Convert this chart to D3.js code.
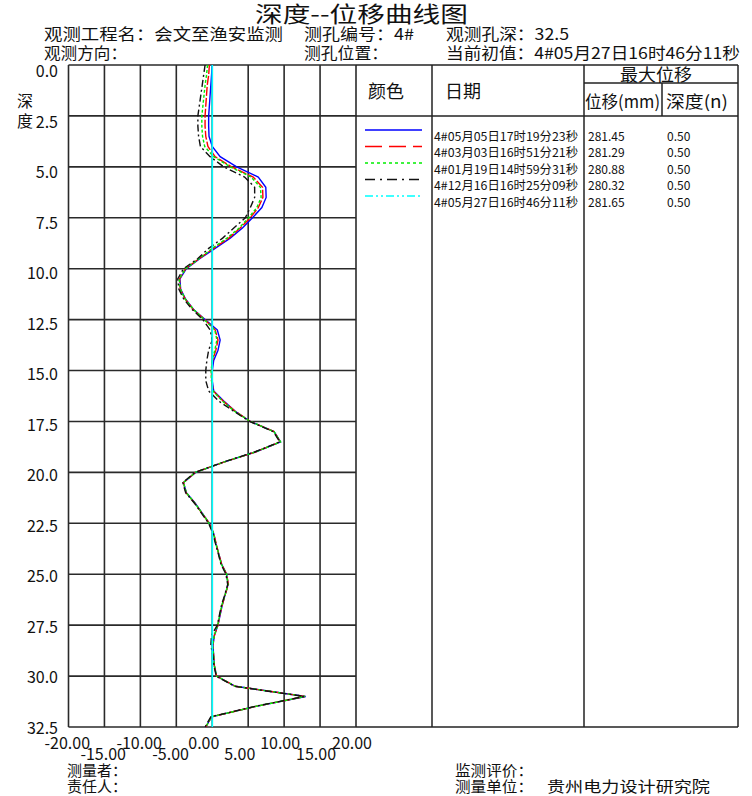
<!DOCTYPE html>
<html><head><meta charset="utf-8">
<script src="https://cdn.jsdelivr.net/npm/d3@7/dist/d3.min.js"></script>
<style>body{margin:0;background:#fff}svg{display:block}text{font-family:"Noto Sans CJK SC","Liberation Sans",sans-serif;fill:#111}</style>
</head><body><div id="chart"></div>
<script>
// ---------- data ----------
const depths = [0,0.5,1,1.5,2,2.5,3,3.5,4,4.5,5,5.5,6,6.5,7,7.5,8,8.5,9,9.5,10,10.5,11,11.5,12,12.5,13,13.5,14,14.5,15,15.5,16,16.5,17,17.5,18,18.5,19,19.5,20,20.5,21,21.5,22,22.5,23,23.5,24,24.5,25,25.5,26,26.5,27,27.5,28,28.5,29,29.5,30,30.5,31,31.5,32,32.5];
const blueVals  = [0.0,-0.1,-0.2,-0.3,-0.4,-0.5,-0.5,-0.45,0.0,1.1,3.4,6.4,7.45,7.5,6.9,5.6,4.2,2.5,0.4,-1.7,-3.6,-4.5,-4.4,-3.7,-2.6,-1.0,0.7,1.1,0.8,0.2,0.0,0.0,0.2,1.6,3.2,5.3,8.6,9.5,6.0,1.6,-2.3,-4.0,-3.6,-2.4,-1.4,-0.4,0.2,0.5,0.9,1.3,2.0,2.2,1.8,1.4,1.1,0.8,0.3,0.1,0.2,0.3,0.6,3.2,13.0,5.9,-0.1,-0.9];
const redVals   = [-0.4,-0.5,-0.7,-0.8,-0.9,-1.0,-1.0,-0.9,-0.6,0.4,2.7,5.7,7.0,7.05,6.4,5.3,3.9,2.3,0.2,-1.8,-3.7,-4.55,-4.45,-3.75,-2.65,-1.05,0.4,0.8,0.5,0.05,-0.1,-0.1,0.15,1.5,3.2,5.3,8.6,9.45,6.0,1.6,-2.35,-4.0,-3.65,-2.45,-1.45,-0.4,0.2,0.55,0.9,1.3,2.0,2.25,1.8,1.4,1.05,0.8,0.3,0.05,0.2,0.3,0.6,3.2,12.9,5.9,-0.1,-0.9];
const greenVals = [-0.65,-0.8,-1.0,-1.15,-1.3,-1.45,-1.45,-1.35,-1.05,0.2,2.5,5.4,6.7,6.8,6.2,5.05,3.75,2.05,0.0,-1.8,-3.7,-4.6,-4.45,-3.75,-2.6,-1.1,0.35,0.65,0.35,0.0,-0.15,-0.1,0.1,1.4,3.1,5.3,8.6,9.5,6.0,1.55,-2.35,-4.0,-3.6,-2.45,-1.4,-0.45,0.2,0.5,0.9,1.25,2.0,2.2,1.8,1.35,1.05,0.75,0.3,0.05,0.2,0.3,0.6,3.2,12.9,5.9,-0.1,-0.9];
const blackVals = [-1.0,-1.2,-1.4,-1.6,-1.8,-2.0,-2.0,-1.9,-1.65,-0.3,1.6,4.5,5.9,5.9,5.3,4.6,3.0,1.45,-0.5,-2.0,-4.0,-4.8,-4.65,-3.95,-2.8,-1.3,-0.3,0.0,-0.5,-0.75,-0.9,-0.9,-0.5,0.9,3.0,5.2,8.5,9.4,5.9,1.5,-2.4,-4.1,-3.7,-2.5,-1.5,-0.5,0.1,0.45,0.85,1.2,1.9,2.15,1.75,1.3,1.0,0.7,-0.1,-0.2,0.1,0.25,0.55,3.1,12.8,5.8,-0.2,-1.0];
const cyanVals  = [0,0,0,0,0,0,0,0,0,0,0,0,0,0,0,0,0,0,0,0,0,0,0,0,0,0,0,0,0,0,0,0,0,0,0,0,0,0,0,0,0,0,0,0,0,0,0,0,0,0,0,0,0,0,0,0,0,0,0,0,0,0,0,0,0,0];

const seriesNames = ["4#05月05日17时19分23秒","4#03月03日16时51分21秒","4#01月19日14时59分31秒","4#12月16日16时25分09秒","4#05月27日16时46分11秒"];
const maxDisp = ["281.45","281.29","280.88","280.32","281.65"];
const maxDepth = ["0.50","0.50","0.50","0.50","0.50"];
const seriesColors = ["#0000ff","#ff0000","#00ee00","#111111","#00ffff"];

const xTicks = [-20,-15,-10,-5,0,5,10,15,20];
const xTickLabels = ["-20.00","-15.00","-10.00","-5.00","0.00","5.00","10.00","15.00","20.00"];
const yTicks = [0,2.5,5,7.5,10,12.5,15,17.5,20,22.5,25,27.5,30,32.5];
const yTickLabels = ["0.0","2.5","5.0","7.5","10.0","12.5","15.0","17.5","20.0","22.5","25.0","27.5","30.0","32.5"];

// ---------- drawing ----------
const W = 752, H = 796;
const svg = d3.select("#chart").append("svg").attr("width", W).attr("height", H);
svg.append("rect").attr("width", W).attr("height", H).attr("fill", "#fff");

const x = d3.scaleLinear().domain([-20, 20]).range([68.5, 356]);
const y = d3.scaleLinear().domain([0, 32.5]).range([65, 727]);
const yLab = d3.scaleLinear().domain([0, 32.5]).range([77, 734]);

function txt(s, px, py, fs, len, anchor) {
  const t = svg.append("text").attr("x", px).attr("y", py).attr("font-size", fs).text(s);
  if (anchor) t.attr("text-anchor", anchor);
  if (len) t.attr("textLength", len).attr("lengthAdjust", "spacingAndGlyphs");
  return t;
}
txt("深度--位移曲线图", 255, 22, 22, 213);
txt("观测工程名：会文至渔安监测", 44, 40, 16, 239);
txt("测孔编号：4#", 304, 40, 16, 110);
txt("观测孔深：32.5", 446, 40, 16, 123);
txt("观测方向：", 44, 59, 16, 83);
txt("测孔位置：", 304, 59, 16, 84);
txt("当前初值：4#05月27日16时46分11秒", 446, 59, 16, 294);

// grid
const gridColor = "#2a2a2a";
svg.append("g").selectAll("line").data(xTicks).join("line")
  .attr("x1", d => x(d)).attr("x2", d => x(d))
  .attr("y1", y(0)).attr("y2", y(32.5))
  .attr("stroke", gridColor).attr("stroke-width", 1.6);
svg.append("g").selectAll("line").data(yTicks).join("line")
  .attr("x1", x(-20)).attr("x2", x(20))
  .attr("y1", d => y(d)).attr("y2", d => y(d))
  .attr("stroke", gridColor).attr("stroke-width", 1.6);

// y labels
svg.append("g").selectAll("text").data(yTicks).join("text")
  .attr("x", 58).attr("y", d => yLab(d))
  .attr("text-anchor", "end").attr("font-size", 16)
  .text((d, i) => yTickLabels[i]);
txt("深", 17, 107, 16);
txt("度", 17, 127, 16);

// x labels (two staggered rows, left aligned)
svg.append("g").selectAll("text").data(xTicks).join("text")
  .attr("x", d => x(d) - 24)
  .attr("y", (d, i) => i % 2 === 0 ? 749 : 760)
  .attr("font-size", 16)
  .text((d, i) => xTickLabels[i]);

// curves
const allSeries = [blueVals, redVals, greenVals, blackVals, cyanVals];
const plotDash = ["none", "9,2", "3,2", "7,3,2,3", "none"];
const line = d3.line().x(d => x(d[1])).y(d => y(d[0]));
[0, 1, 2, 3, 4].forEach(k => {
  const pts = depths.map((d, i) => [d, allSeries[k][i]]);
  svg.append("path").datum(pts).attr("d", line)
    .attr("fill", "none").attr("stroke", seriesColors[k])
    .attr("stroke-width", k === 4 ? 1.6 : 1.4)
    .attr("stroke-dasharray", plotDash[k]);
});

// legend table
const tL = 356, tR = 738, tT = 65, tB = 727;
const tc = "#222";
function ln(x1, y1, x2, y2) {
  svg.append("line").attr("x1", x1).attr("y1", y1).attr("x2", x2).attr("y2", y2)
    .attr("stroke", tc).attr("stroke-width", 1.5);
}
ln(tL, tT, tR, tT);
ln(tL, 116, tR, 116);
ln(584, 83, tR, 83);
ln(tL, tB, tR, tB);
ln(tR, tT, tR, tB);
ln(432, tT, 432, tB);
ln(584, tT, 584, tB);
ln(662, 83, 662, 116);

txt("颜色", 368, 98, 18);
txt("日期", 445, 98, 18);
txt("最大位移", 620, 81, 17, 72);
txt("位移(mm)", 585, 108, 17, 75);
txt("深度(n)", 666, 108, 17, 62);

const legDash = ["none", "17,7", "3,3", "10,5,2,5", "8,3,2,3,2,3"];
const rowY = [130, 146.5, 163, 179.5, 196];
const lg = svg.append("g");
lg.selectAll("line").data(seriesColors).join("line")
  .attr("x1", 365).attr("x2", 422)
  .attr("y1", (d, i) => rowY[i]).attr("y2", (d, i) => rowY[i])
  .attr("stroke", d => d).attr("stroke-width", 1.5)
  .attr("stroke-dasharray", (d, i) => legDash[i]);
lg.selectAll("text.nm").data(seriesNames).join("text")
  .attr("x", 434).attr("y", (d, i) => rowY[i] + 10.5)
  .attr("font-size", 12).attr("textLength", 144).attr("lengthAdjust", "spacingAndGlyphs")
  .text(d => d);
lg.selectAll("text.md").data(maxDisp).join("text")
  .attr("x", 588).attr("y", (d, i) => rowY[i] + 10.5)
  .attr("font-size", 12).text(d => d);
lg.selectAll("text.dp").data(maxDepth).join("text")
  .attr("x", 667).attr("y", (d, i) => rowY[i] + 10.5)
  .attr("font-size", 12).text(d => d);

// footer
txt("测量者：", 67, 776, 15, 60);
txt("责任人：", 67, 792, 15, 60);
txt("监测评价：", 455, 776, 15, 78);
txt("测量单位：", 455, 792, 15, 78);
txt("贵州电力设计研究院", 547, 792, 15, 163);
</script></body></html>
